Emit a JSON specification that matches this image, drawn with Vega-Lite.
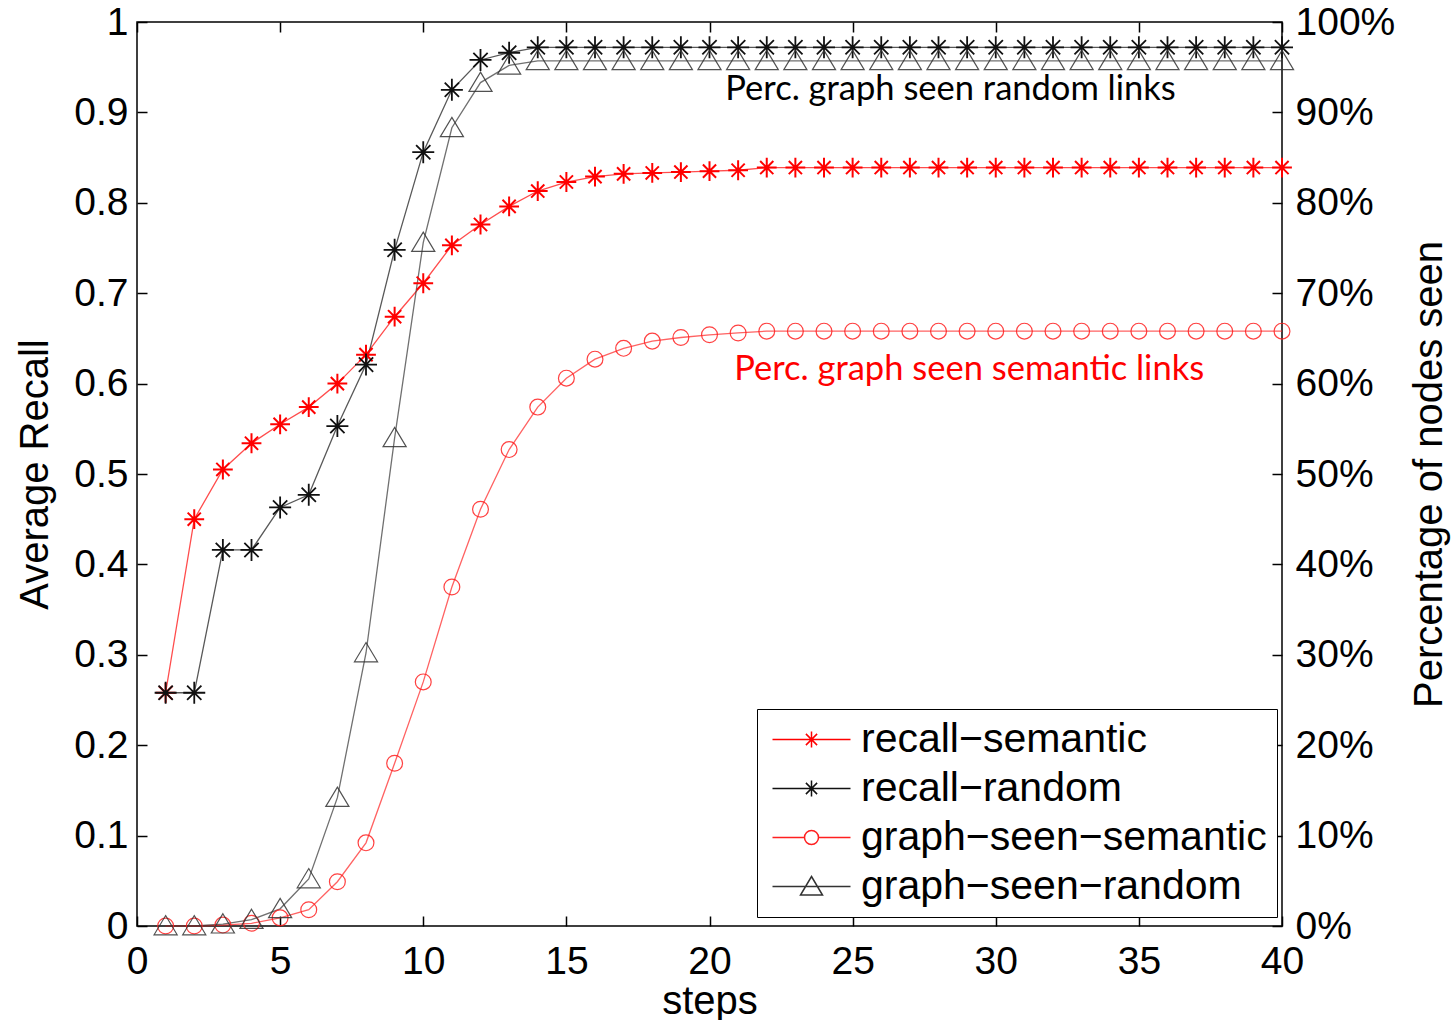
{
  "$schema": "https://vega.github.io/schema/vega-lite/v6.json",
  "width": 1145,
  "height": 904,
  "autosize": {"type": "none"},
  "padding": {"left": 137, "top": 22, "right": 173, "bottom": 94},
  "background": "white",
  "config": {
    "view": {"stroke": "black", "strokeWidth": 1.5},
    "axis": {
      "labelFont": "Liberation Sans",
      "titleFont": "Liberation Sans",
      "labelFontSize": 39,
      "titleFontSize": 40,
      "titleFontWeight": "normal",
      "labelColor": "black",
      "titleColor": "black",
      "tickColor": "black",
      "tickSize": -10,
      "tickWidth": 1.5,
      "domain": false,
      "grid": false,
      "labelOverlap": false,
      "labelFlush": false
    }
  },
  "data": {
    "values": [
      {"step": 1, "recall−semantic": 0.258, "recall−random": 0.258, "graph−seen−semantic": 0.0, "graph−seen−random": 0.0},
      {"step": 2, "recall−semantic": 0.450, "recall−random": 0.258, "graph−seen−semantic": 0.0, "graph−seen−random": 0.0},
      {"step": 3, "recall−semantic": 0.505, "recall−random": 0.416, "graph−seen−semantic": 0.001, "graph−seen−random": 0.002},
      {"step": 4, "recall−semantic": 0.534, "recall−random": 0.416, "graph−seen−semantic": 0.003, "graph−seen−random": 0.007},
      {"step": 5, "recall−semantic": 0.555, "recall−random": 0.463, "graph−seen−semantic": 0.009, "graph−seen−random": 0.019},
      {"step": 6, "recall−semantic": 0.574, "recall−random": 0.477, "graph−seen−semantic": 0.018, "graph−seen−random": 0.052},
      {"step": 7, "recall−semantic": 0.600, "recall−random": 0.553, "graph−seen−semantic": 0.049, "graph−seen−random": 0.142},
      {"step": 8, "recall−semantic": 0.632, "recall−random": 0.621, "graph−seen−semantic": 0.092, "graph−seen−random": 0.302},
      {"step": 9, "recall−semantic": 0.674, "recall−random": 0.748, "graph−seen−semantic": 0.180, "graph−seen−random": 0.540},
      {"step": 10, "recall−semantic": 0.711, "recall−random": 0.856, "graph−seen−semantic": 0.270, "graph−seen−random": 0.756},
      {"step": 11, "recall−semantic": 0.753, "recall−random": 0.925, "graph−seen−semantic": 0.375, "graph−seen−random": 0.883},
      {"step": 12, "recall−semantic": 0.776, "recall−random": 0.958, "graph−seen−semantic": 0.461, "graph−seen−random": 0.933},
      {"step": 13, "recall−semantic": 0.796, "recall−random": 0.966, "graph−seen−semantic": 0.527, "graph−seen−random": 0.952},
      {"step": 14, "recall−semantic": 0.813, "recall−random": 0.972, "graph−seen−semantic": 0.574, "graph−seen−random": 0.957},
      {"step": 15, "recall−semantic": 0.823, "recall−random": 0.972, "graph−seen−semantic": 0.606, "graph−seen−random": 0.957},
      {"step": 16, "recall−semantic": 0.829, "recall−random": 0.972, "graph−seen−semantic": 0.627, "graph−seen−random": 0.957},
      {"step": 17, "recall−semantic": 0.832, "recall−random": 0.972, "graph−seen−semantic": 0.639, "graph−seen−random": 0.957},
      {"step": 18, "recall−semantic": 0.833, "recall−random": 0.972, "graph−seen−semantic": 0.647, "graph−seen−random": 0.957},
      {"step": 19, "recall−semantic": 0.834, "recall−random": 0.972, "graph−seen−semantic": 0.651, "graph−seen−random": 0.957},
      {"step": 20, "recall−semantic": 0.835, "recall−random": 0.972, "graph−seen−semantic": 0.654, "graph−seen−random": 0.957},
      {"step": 21, "recall−semantic": 0.836, "recall−random": 0.972, "graph−seen−semantic": 0.656, "graph−seen−random": 0.957},
      {"step": 22, "recall−semantic": 0.839, "recall−random": 0.972, "graph−seen−semantic": 0.658, "graph−seen−random": 0.957},
      {"step": 23, "recall−semantic": 0.839, "recall−random": 0.972, "graph−seen−semantic": 0.658, "graph−seen−random": 0.957},
      {"step": 24, "recall−semantic": 0.839, "recall−random": 0.972, "graph−seen−semantic": 0.658, "graph−seen−random": 0.957},
      {"step": 25, "recall−semantic": 0.839, "recall−random": 0.972, "graph−seen−semantic": 0.658, "graph−seen−random": 0.957},
      {"step": 26, "recall−semantic": 0.839, "recall−random": 0.972, "graph−seen−semantic": 0.658, "graph−seen−random": 0.957},
      {"step": 27, "recall−semantic": 0.839, "recall−random": 0.972, "graph−seen−semantic": 0.658, "graph−seen−random": 0.957},
      {"step": 28, "recall−semantic": 0.839, "recall−random": 0.972, "graph−seen−semantic": 0.658, "graph−seen−random": 0.957},
      {"step": 29, "recall−semantic": 0.839, "recall−random": 0.972, "graph−seen−semantic": 0.658, "graph−seen−random": 0.957},
      {"step": 30, "recall−semantic": 0.839, "recall−random": 0.972, "graph−seen−semantic": 0.658, "graph−seen−random": 0.957},
      {"step": 31, "recall−semantic": 0.839, "recall−random": 0.972, "graph−seen−semantic": 0.658, "graph−seen−random": 0.957},
      {"step": 32, "recall−semantic": 0.839, "recall−random": 0.972, "graph−seen−semantic": 0.658, "graph−seen−random": 0.957},
      {"step": 33, "recall−semantic": 0.839, "recall−random": 0.972, "graph−seen−semantic": 0.658, "graph−seen−random": 0.957},
      {"step": 34, "recall−semantic": 0.839, "recall−random": 0.972, "graph−seen−semantic": 0.658, "graph−seen−random": 0.957},
      {"step": 35, "recall−semantic": 0.839, "recall−random": 0.972, "graph−seen−semantic": 0.658, "graph−seen−random": 0.957},
      {"step": 36, "recall−semantic": 0.839, "recall−random": 0.972, "graph−seen−semantic": 0.658, "graph−seen−random": 0.957},
      {"step": 37, "recall−semantic": 0.839, "recall−random": 0.972, "graph−seen−semantic": 0.658, "graph−seen−random": 0.957},
      {"step": 38, "recall−semantic": 0.839, "recall−random": 0.972, "graph−seen−semantic": 0.658, "graph−seen−random": 0.957},
      {"step": 39, "recall−semantic": 0.839, "recall−random": 0.972, "graph−seen−semantic": 0.658, "graph−seen−random": 0.957},
      {"step": 40, "recall−semantic": 0.839, "recall−random": 0.972, "graph−seen−semantic": 0.658, "graph−seen−random": 0.957}
    ]
  },
  "transform": [
    {"fold": ["recall−semantic", "recall−random", "graph−seen−semantic", "graph−seen−random"], "as": ["series", "value"]}
  ],
  "layer": [
    {
      "mark": {"type": "line", "strokeWidth": 1.3, "opacity": 0.7},
      "encoding": {
        "x": {"field": "step", "type": "quantitative", "scale": {"domain": [0, 40], "nice": false},
              "axis": {"orient": "bottom", "values": [0, 5, 10, 15, 20, 25, 30, 35, 40], "format": "d", "title": "steps", "labelPadding": 26, "titlePadding": 0}},
        "y": {"field": "value", "type": "quantitative", "scale": {"domain": [0, 1], "nice": false, "zero": false},
              "axis": {"orient": "left", "values": [0, 0.1, 0.2, 0.3, 0.4, 0.5, 0.6, 0.7, 0.8, 0.9, 1], "format": ".1~f", "title": "Average Recall", "labelPadding": 19, "titlePadding": 18}},
        "color": {"field": "series", "type": "nominal",
                  "scale": {"domain": ["recall−semantic", "recall−random", "graph−seen−semantic", "graph−seen−random"], "range": ["#ff0000", "#111111", "#ff2020", "#333333"]},
                  "legend": {
                    "title": null,
                    "orient": "none",
                    "legendX": 620,
                    "legendY": 687,
                    "symbolSize": 400,
                    "symbolOffset": 24,
                    "symbolStrokeWidth": 1.5,
                    "symbolOpacity": 1,
                    "labelFont": "Liberation Sans",
                    "labelFontSize": 41,
                    "labelColor": "black",
                    "labelOffset": 29,
                    "padding": 10,
                    "rowPadding": 7,
                    "strokeColor": "black",
                    "fillColor": "white",
                    "labelLimit": 600
                  }},
        "detail": {"field": "series"}
      }
    },
    {
      "transform": [{"filter": {"field": "step", "gt": 1000}}],
      "mark": {"type": "point", "filled": false, "size": 400, "opacity": 1, "strokeWidth": 1.5},
      "encoding": {
        "x": {"field": "step", "type": "quantitative", "axis": null},
        "y": {"field": "value", "type": "quantitative", "axis": null},
        "color": {"field": "series", "type": "nominal", "legend": null},
        "shape": {"field": "series", "type": "nominal",
                  "scale": {"domain": ["recall−semantic", "recall−random", "graph−seen−semantic", "graph−seen−random"],
                            "range": [
                              "M-3.9,0L3.9,0M0,-0.8L0,0.8M-0.8,0L0.8,0M-0.56,-0.56L0.56,0.56M-0.56,0.56L0.56,-0.56",
                              "M-3.9,0L3.9,0M0,-0.8L0,0.8M-0.8,0L0.8,0M-0.56,-0.56L0.56,0.56M-0.56,0.56L0.56,-0.56",
                              "M-3.9,0L-0.7,0M0.7,0L3.9,0M-0.7,0A0.7,0.7 0 1,1 0.7,0A0.7,0.7 0 1,1 -0.7,0Z",
                              "M-3.9,0L3.9,0M0,-1L1.1,0.85L-1.1,0.85Z"
                            ]},
                  "legend": null}
      }
    },
    {
      "transform": [{"filter": {"field": "series", "equal": "recall−semantic"}}],
      "mark": {"type": "point", "filled": false, "size": 484, "opacity": 1, "color": "#ff0000", "strokeWidth": 2,
               "shape": "M-0.9,0L0.9,0M0,-0.9L0,0.9M-0.6,-0.6L0.6,0.6M-0.6,0.6L0.6,-0.6"},
      "encoding": {
        "x": {"field": "step", "type": "quantitative", "axis": null},
        "y": {"field": "value", "type": "quantitative", "axis": null}
      }
    },
    {
      "transform": [{"filter": {"field": "series", "equal": "recall−random"}}],
      "mark": {"type": "point", "filled": false, "size": 484, "opacity": 1, "color": "#111111", "strokeWidth": 1.8,
               "shape": "M-1,0L1,0M0,-1L0,1M-0.65,-0.65L0.65,0.65M-0.65,0.65L0.65,-0.65"},
      "encoding": {
        "x": {"field": "step", "type": "quantitative", "axis": null},
        "y": {"field": "value", "type": "quantitative", "axis": null}
      }
    },
    {
      "transform": [{"filter": {"field": "series", "equal": "graph−seen−semantic"}}],
      "mark": {"type": "point", "filled": false, "size": 484, "opacity": 0.85, "color": "#ff2020", "strokeWidth": 1.2,
               "shape": "M-0.72,0A0.72,0.72 0 1,1 0.72,0A0.72,0.72 0 1,1 -0.72,0Z"},
      "encoding": {
        "x": {"field": "step", "type": "quantitative", "axis": null},
        "y": {"field": "value", "type": "quantitative", "axis": null}
      }
    },
    {
      "transform": [{"filter": {"field": "series", "equal": "graph−seen−random"}}],
      "mark": {"type": "point", "filled": false, "size": 484, "opacity": 0.85, "color": "#333333", "strokeWidth": 1.2,
               "shape": "M0,-0.95L1.05,0.8L-1.05,0.8Z"},
      "encoding": {
        "x": {"field": "step", "type": "quantitative", "axis": null},
        "y": {"field": "value", "type": "quantitative", "axis": null}
      }
    },
    {
      "mark": {"type": "point", "opacity": 0},
      "encoding": {
        "x": {"field": "step", "type": "quantitative",
              "axis": {"orient": "top", "values": [0, 5, 10, 15, 20, 25, 30, 35, 40], "labels": false, "title": null}},
        "y": {"field": "value", "type": "quantitative",
              "axis": {"orient": "right", "values": [0, 0.1, 0.2, 0.3, 0.4, 0.5, 0.6, 0.7, 0.8, 0.9, 1], "format": ".0%", "title": "Percentage of nodes seen", "titleAngle": 270, "titleBaseline": "top", "labelPadding": 23, "titlePadding": 15}}
      }
    },
    {
      "data": {"values": [{"label": "Perc. graph seen random links", "step": 28.42, "value": 0.925}]},
      "mark": {"type": "text", "font": "Lato", "fontSize": 34.5, "color": "black", "align": "center", "baseline": "middle"},
      "encoding": {
        "x": {"field": "step", "type": "quantitative", "axis": null},
        "y": {"field": "value", "type": "quantitative", "axis": null},
        "text": {"field": "label"}
      }
    },
    {
      "data": {"values": [{"label": "Perc. graph seen semantic links", "step": 29.07, "value": 0.615}]},
      "mark": {"type": "text", "font": "Lato", "fontSize": 34.5, "color": "#ff0000", "align": "center", "baseline": "middle"},
      "encoding": {
        "x": {"field": "step", "type": "quantitative", "axis": null},
        "y": {"field": "value", "type": "quantitative", "axis": null},
        "text": {"field": "label"}
      }
    }
  ],
  "resolve": {"axis": {"x": "independent", "y": "independent"}}
}
